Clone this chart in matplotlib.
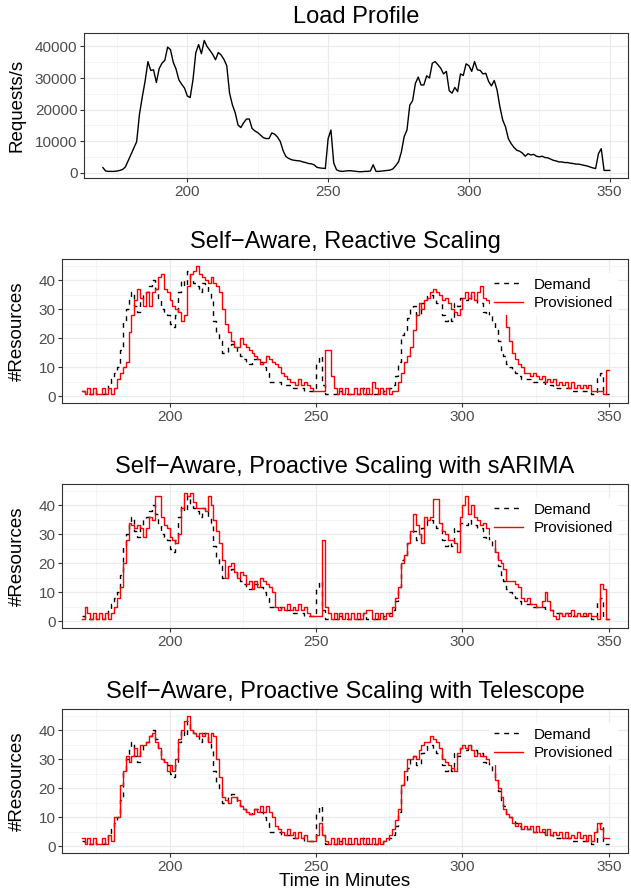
import matplotlib
matplotlib.use("Agg")
import matplotlib.pyplot as plt
from matplotlib.ticker import MultipleLocator
from matplotlib.lines import Line2D

plt.rcParams['font.family'] = ['Liberation Sans', 'DejaVu Sans']

# time in minutes, one sample per minute
minutes = list(range(170, 351))

# load profile (requests/s)
load = [1600, 500, 400, 400, 400, 500, 700, 1000, 1800, 3800,
        5800, 7800, 9800, 18500, 24000, 29000, 35200, 32400, 32600, 28600,
        33000, 34700, 35600, 39800, 39000, 35000, 32800, 29400, 28000, 26800,
        24300, 23800, 29400, 38000, 40600, 37700, 41900, 40000, 38800, 37500,
        35800, 38100, 37300, 35900, 33900, 25200, 21500, 19000, 15100, 14300,
        15800, 17000, 17000, 14000, 13200, 12700, 11900, 11100, 10800, 10800,
        12600, 12200, 11300, 9900, 7000, 5100, 4500, 4100, 3900, 3800,
        3700, 3400, 3200, 2900, 2800, 2500, 1700, 1500, 1400, 1300,
        10800, 13500, 3000, 900, 500, 400, 500, 600, 600, 500,
        400, 300, 300, 400, 400, 500, 2500, 400, 400, 500,
        600, 700, 800, 1200, 2200, 3400, 6500, 11400, 13500, 21400,
        22800, 28300, 30300, 27800, 27800, 30700, 30000, 34700, 35200, 34200,
        33100, 31300, 32100, 26000, 25200, 27000, 25700, 31300, 30800, 34500,
        33900, 32100, 35200, 32600, 32400, 31300, 31500, 28900, 27500, 29200,
        26200, 20900, 16700, 14500, 10800, 9200, 8000, 7100, 6800, 6200,
        5200, 6000, 5600, 5800, 5200, 5000, 5200, 4800, 4700, 4300,
        3900, 3700, 3400, 3400, 3200, 3200, 3000, 2900, 2700, 2700,
        2500, 2300, 2100, 1800, 1500, 1300, 6000, 7600, 700, 700,
        700]

# resource demand (same in all three scaling panels)
demand = [2, 1, 1, 1, 2, 1, 1, 1, 2, 4,
          6, 8, 10, 16, 26, 30, 34, 36, 31, 29,
          33, 35, 36, 38, 40, 37, 34, 30, 29, 28,
          25, 24, 28, 36, 40, 38, 43, 40, 39, 38,
          36, 39, 38, 36, 34, 26, 22, 19, 15, 15,
          17, 18, 17, 15, 14, 13, 12, 11, 12, 13,
          13, 12, 10, 8, 5, 5, 5, 5, 4, 4,
          4, 4, 3, 3, 3, 3, 2, 2, 2, 2,
          11, 14, 4, 1, 1, 1, 1, 1, 2, 1,
          1, 1, 1, 1, 1, 1, 3, 1, 1, 1,
          1, 1, 1, 2, 2, 3, 4, 7, 12, 21,
          23, 27, 30, 31, 28, 28, 32, 33, 35, 35,
          33, 32, 32, 28, 26, 27, 26, 32, 31, 34,
          34, 33, 35, 33, 33, 32, 32, 29, 28, 29,
          26, 23, 19, 16, 14, 11, 10, 9, 8, 7,
          6, 6, 6, 6, 5, 5, 5, 5, 4, 4,
          4, 3, 3, 3, 3, 3, 3, 2, 2, 2,
          2, 2, 2, 2, 1, 1, 7, 8, 1, 1,
          1]

# provisioned resources per strategy
reactive = [2, 1, 3, 1, 3, 1, 1, 3, 1, 3,
            1, 3, 6, 8, 10, 12, 22, 28, 33, 37,
            34, 31, 36, 31, 36, 37, 41, 42, 37, 36,
            33, 31, 30, 29, 26, 28, 38, 42, 43, 45,
            42, 41, 40, 39, 41, 39, 38, 36, 30, 25,
            22, 19, 17, 17, 20, 18, 17, 16, 15, 14,
            13, 11, 12, 14, 13, 12, 11, 10, 8, 7,
            6, 5, 5, 4, 6, 4, 5, 4, 3, 2,
            2, 2, 2, 16, 16, 7, 3, 1, 3, 1,
            3, 1, 1, 3, 1, 3, 1, 3, 1, 5,
            3, 1, 3, 1, 3, 1, 2, 2, 5, 8,
            12, 14, 17, 23, 28, 32, 30, 33, 34, 36,
            37, 36, 35, 33, 34, 32, 30, 29, 28, 30,
            34, 36, 34, 36, 33, 36, 38, 34, 33, 32,
            31, 33, 31, 32, 30, 24, 19, 15, 13, 11,
            10, 8, 8, 7, 8, 7, 6, 7, 5, 6,
            5, 6, 4, 5, 4, 5, 3, 5, 3, 4,
            3, 4, 3, 4, 2, 2, 2, 2, 1, 9,
            9]

sarima = [1, 5, 3, 1, 3, 1, 3, 1, 3, 1,
          3, 5, 8, 12, 20, 28, 34, 33, 32, 33,
          32, 29, 32, 36, 35, 43, 43, 36, 33, 32,
          29, 28, 27, 30, 39, 44, 43, 44, 41, 39,
          39, 39, 38, 43, 40, 35, 31, 27, 21, 15,
          19, 20, 17, 15, 17, 16, 13, 14, 11, 14,
          12, 15, 14, 13, 12, 10, 5, 4, 5, 4,
          6, 4, 5, 4, 6, 4, 5, 3, 2, 2,
          2, 2, 28, 5, 3, 1, 3, 1, 3, 1,
          3, 1, 3, 1, 3, 1, 3, 4, 4, 1,
          3, 1, 3, 1, 3, 2, 5, 8, 12, 20,
          23, 27, 31, 37, 33, 30, 27, 36, 35, 36,
          42, 42, 34, 31, 30, 28, 28, 27, 24, 36,
          40, 43, 37, 40, 36, 35, 33, 34, 32, 30,
          29, 24, 21, 20, 18, 14, 14, 14, 13, 12,
          8, 7, 8, 6, 6, 5, 5, 7, 10, 7,
          4, 2, 1, 3, 2, 3, 2, 4, 2, 3,
          2, 3, 2, 3, 2, 2, 1, 13, 11, 1,
          1]

telescope = [3, 1, 3, 1, 3, 1, 1, 3, 1, 4,
             2, 10, 10, 21, 26, 31, 29, 31, 34, 31,
             35, 35, 36, 38, 39, 36, 34, 30, 29, 26,
             28, 26, 30, 37, 40, 43, 45, 40, 39, 38,
             39, 38, 39, 36, 39, 38, 30, 24, 17, 16,
             15, 17, 17, 16, 14, 13, 12, 11, 11, 13,
             12, 14, 12, 14, 12, 10, 7, 6, 5, 4,
             6, 4, 5, 3, 5, 3, 4, 2, 2, 2,
             4, 8, 4, 2, 1, 3, 1, 3, 1, 3,
             1, 3, 1, 3, 1, 3, 1, 3, 1, 3,
             1, 3, 1, 2, 3, 4, 6, 9, 13, 21,
             26, 30, 30, 31, 30, 33, 35, 36, 36, 38,
             37, 36, 34, 30, 29, 28, 27, 26, 32, 34,
             35, 34, 35, 33, 31, 32, 31, 31, 30, 29,
             31, 23, 20, 17, 13, 11, 10, 8, 7, 8,
             6, 7, 6, 7, 5, 7, 5, 6, 4, 6,
             4, 5, 4, 5, 3, 5, 3, 4, 3, 5,
             3, 4, 2, 4, 2, 5, 8, 6, 3, 3,
             3]

titles = ["Load Profile",
          "Self\u2212Aware, Reactive Scaling",
          "Self\u2212Aware, Proactive Scaling with sARIMA",
          "Self\u2212Aware, Proactive Scaling with Telescope"]

W, H = 631, 894
fig = plt.figure(figsize=(W / 100, H / 100), dpi=100)


def box(l, t, r, b):
    return [l / W, 1 - b / H, (r - l) / W, (b - t) / H]


def style(ax, major, minor):
    ax.set_xlim(163.3, 356.5)
    ax.xaxis.set_major_locator(MultipleLocator(50))
    ax.xaxis.set_minor_locator(MultipleLocator(25))
    ax.yaxis.set_major_locator(MultipleLocator(major))
    ax.yaxis.set_minor_locator(MultipleLocator(minor))
    ax.grid(which='major', color='#EBEBEB', lw=0.9)
    ax.grid(which='minor', color='#F2F2F2', lw=0.6)
    ax.set_axisbelow(True)
    for s in ax.spines.values():
        s.set_color('#333333')
        s.set_linewidth(0.8)
    ax.tick_params(which='major', length=2.75, width=0.8, color='#333333',
                   labelcolor='#4D4D4D', labelsize=11, pad=2)
    ax.tick_params(which='minor', length=0)


panels = [(84, 33, 628, 178), (62, 259, 628, 403),
          (62, 484, 628, 628), (62, 709, 628, 853)]
title_y = [17, 242, 467, 692]

# load profile
ax = fig.add_axes(box(*panels[0]))
ax.plot(minutes, load, color='black', lw=1.0)
ax.set_ylim(-1700, 44270)
style(ax, 10000, 5000)
fig.text(17 / W, 1 - 105 / H, "Requests/s", rotation=90, ha='center', va='center', fontsize=13.5)

series = [reactive, sarima, telescope]
for i in range(3):
    ax = fig.add_axes(box(*panels[i + 1]))
    ax.step(minutes, demand, where='post', color='black', lw=1.0, ls=(0, (3.5, 3.5)))
    ax.step(minutes, series[i], where='post', color='red', lw=1.0)
    ax.set_ylim(-2.25, 47.25)
    style(ax, 10, 5)
    handles = [Line2D([], [], color='black', lw=1.0, ls=(0, (3.5, 3.5))),
               Line2D([], [], color='red', lw=1.0)]
    ax.legend(handles, ['Demand', 'Provisioned'], loc='upper right',
              bbox_to_anchor=(0.996, 0.955), frameon=True, facecolor='white',
              edgecolor='none', framealpha=1, fontsize=11, handlelength=1.9,
              borderpad=0.3, labelspacing=0.3, handletextpad=0.7)
    l, t, r, b = panels[i + 1]
    fig.text(17 / W, 1 - (t + b) / 2 / H, "#Resources", rotation=90,
             ha='center', va='center', fontsize=13.5)

for i in range(4):
    l, t, r, b = panels[i]
    fig.text((l + r) / 2 / W, 1 - title_y[i] / H, titles[i], ha='center',
             va='center', fontsize=17)

fig.text((62 + 628) / 2 / W, 1 - 881 / H, "Time in Minutes", ha='center',
         va='center', fontsize=13.5)

fig.savefig("out.png", dpi=100)
